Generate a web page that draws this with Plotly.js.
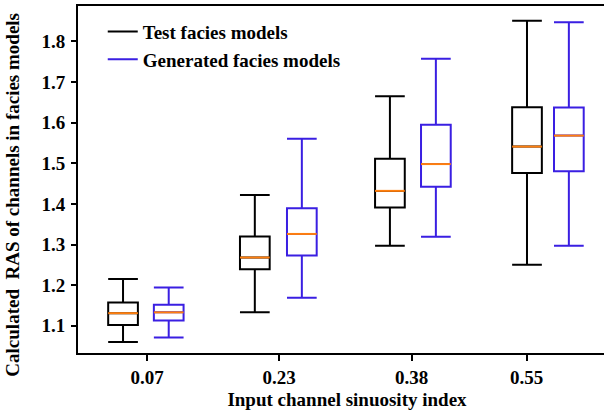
<!DOCTYPE html>
<html>
<head>
<meta charset="utf-8">
<script src="https://cdn.plot.ly/plotly-3.0.1.min.js"></script>
<style>
html, body { margin: 0; padding: 0; overflow: hidden; background: #fff; }
#chart { width: 620px; height: 411px; }
</style>
</head>
<body>
<div id="chart"></div>
<script>
// ---- data ----
var categories = ['0.07', '0.23', '0.38', '0.55'];

var testLower  = [1.060, 1.133, 1.297, 1.250];
var testQ1     = [1.102, 1.239, 1.391, 1.476];
var testMedian = [1.131, 1.268, 1.432, 1.541];
var testQ3     = [1.157, 1.320, 1.511, 1.638];
var testUpper  = [1.215, 1.422, 1.665, 1.851];

var genLower   = [1.071, 1.169, 1.319, 1.297];
var genQ1      = [1.113, 1.273, 1.442, 1.480];
var genMedian  = [1.133, 1.326, 1.498, 1.568];
var genQ3      = [1.152, 1.389, 1.595, 1.637];
var genUpper   = [1.194, 1.560, 1.757, 1.847];

var yTicks = [1.1, 1.2, 1.3, 1.4, 1.5, 1.6, 1.7, 1.8];
var yTickText = ['1.1', '1.2', '1.3', '1.4', '1.5', '1.6', '1.7', '1.8'];

// ---- layout constants (positions on the numeric x axis) ----
var tickPos = [1, 2, 3.003, 3.874];
var testPos = [0.818, 1.816, 2.839, 3.877];
var genPos  = [1.164, 2.172, 3.187, 4.194];
var boxW = 0.225;

var BLACK = '#000000';
var BLUE = '#3a1fe2';
var ORANGE = '#ff7f0e';
var FONT = 'Liberation Serif, Times New Roman, serif';

function medianSegments(pos, med) {
  var xs = [], ys = [];
  for (var i = 0; i < pos.length; i++) {
    xs.push(pos[i] - boxW / 2, pos[i] + boxW / 2, null);
    ys.push(med[i], med[i], null);
  }
  return {x: xs, y: ys};
}

function boxTrace(name, pos, lo, q1, med, q3, hi, color) {
  return {
    type: 'box', name: name, showlegend: false,
    x: pos, lowerfence: lo, q1: q1, median: med, q3: q3, upperfence: hi,
    width: boxW, whiskerwidth: 1, boxpoints: false,
    line: {color: color, width: 2}, fillcolor: 'rgba(0,0,0,0)',
    hoverinfo: 'skip'
  };
}

var tm = medianSegments(testPos, testMedian);
var gm = medianSegments(genPos, genMedian);

var traces = [
  boxTrace('Test facies models', testPos, testLower, testQ1, testMedian, testQ3, testUpper, BLACK),
  boxTrace('Generated facies models', genPos, genLower, genQ1, genMedian, genQ3, genUpper, BLUE),
  {type: 'scatter', mode: 'lines', x: tm.x, y: tm.y, line: {color: ORANGE, width: 2}, showlegend: false, hoverinfo: 'skip'},
  {type: 'scatter', mode: 'lines', x: gm.x, y: gm.y, line: {color: ORANGE, width: 2}, showlegend: false, hoverinfo: 'skip'},
  {type: 'scatter', mode: 'lines', x: [null], y: [null], name: 'Test facies models', line: {color: BLACK, width: 2}},
  {type: 'scatter', mode: 'lines', x: [null], y: [null], name: 'Generated facies models', line: {color: BLUE, width: 2}}
];

var layout = {
  width: 620, height: 411,
  margin: {l: 78, r: 4, t: 6, b: 58},
  paper_bgcolor: '#ffffff', plot_bgcolor: '#ffffff',
  font: {family: FONT, size: 19, color: '#000', weight: 'bold'},
  showlegend: true,
  legend: {
    x: 0.046, y: 0.981, xanchor: 'left', yanchor: 'top',
    bgcolor: 'rgba(0,0,0,0)', borderwidth: 0,
    font: {family: FONT, size: 19, color: '#000', weight: 'bold'}
  },
  xaxis: {
    range: [0.477, 4.551],
    tickmode: 'array', tickvals: tickPos, ticktext: categories,
    showline: true, linecolor: '#000', linewidth: 2, mirror: true,
    ticks: 'outside', ticklen: 6, tickwidth: 2, tickcolor: '#000',
    showgrid: false, zeroline: false,
    tickfont: {family: FONT, size: 19, weight: 'bold'},
    title: {text: 'Input channel sinuosity index', font: {family: FONT, size: 19, weight: 'bold'}, standoff: 6}
  },
  yaxis: {
    range: [1.033, 1.887],
    tickmode: 'array', tickvals: yTicks, ticktext: yTickText,
    showline: true, linecolor: '#000', linewidth: 2, mirror: true,
    ticks: 'outside', ticklen: 5, tickwidth: 2, tickcolor: '#000',
    ticklabelstandoff: 2,
    showgrid: false, zeroline: false,
    tickfont: {family: FONT, size: 19, weight: 'bold'}
  },
  annotations: [{
    text: 'Calculated  RAS of channels in facies models',
    textangle: -90, showarrow: false,
    xref: 'paper', yref: 'paper', x: -0.1431, y: 0.455,
    xanchor: 'left', yanchor: 'middle', borderpad: 0,
    font: {family: FONT, size: 19, weight: 'bold', color: '#000'}
  }]
};

Plotly.newPlot('chart', traces, layout, {displayModeBar: false, staticPlot: true});
</script>
</body>
</html>
